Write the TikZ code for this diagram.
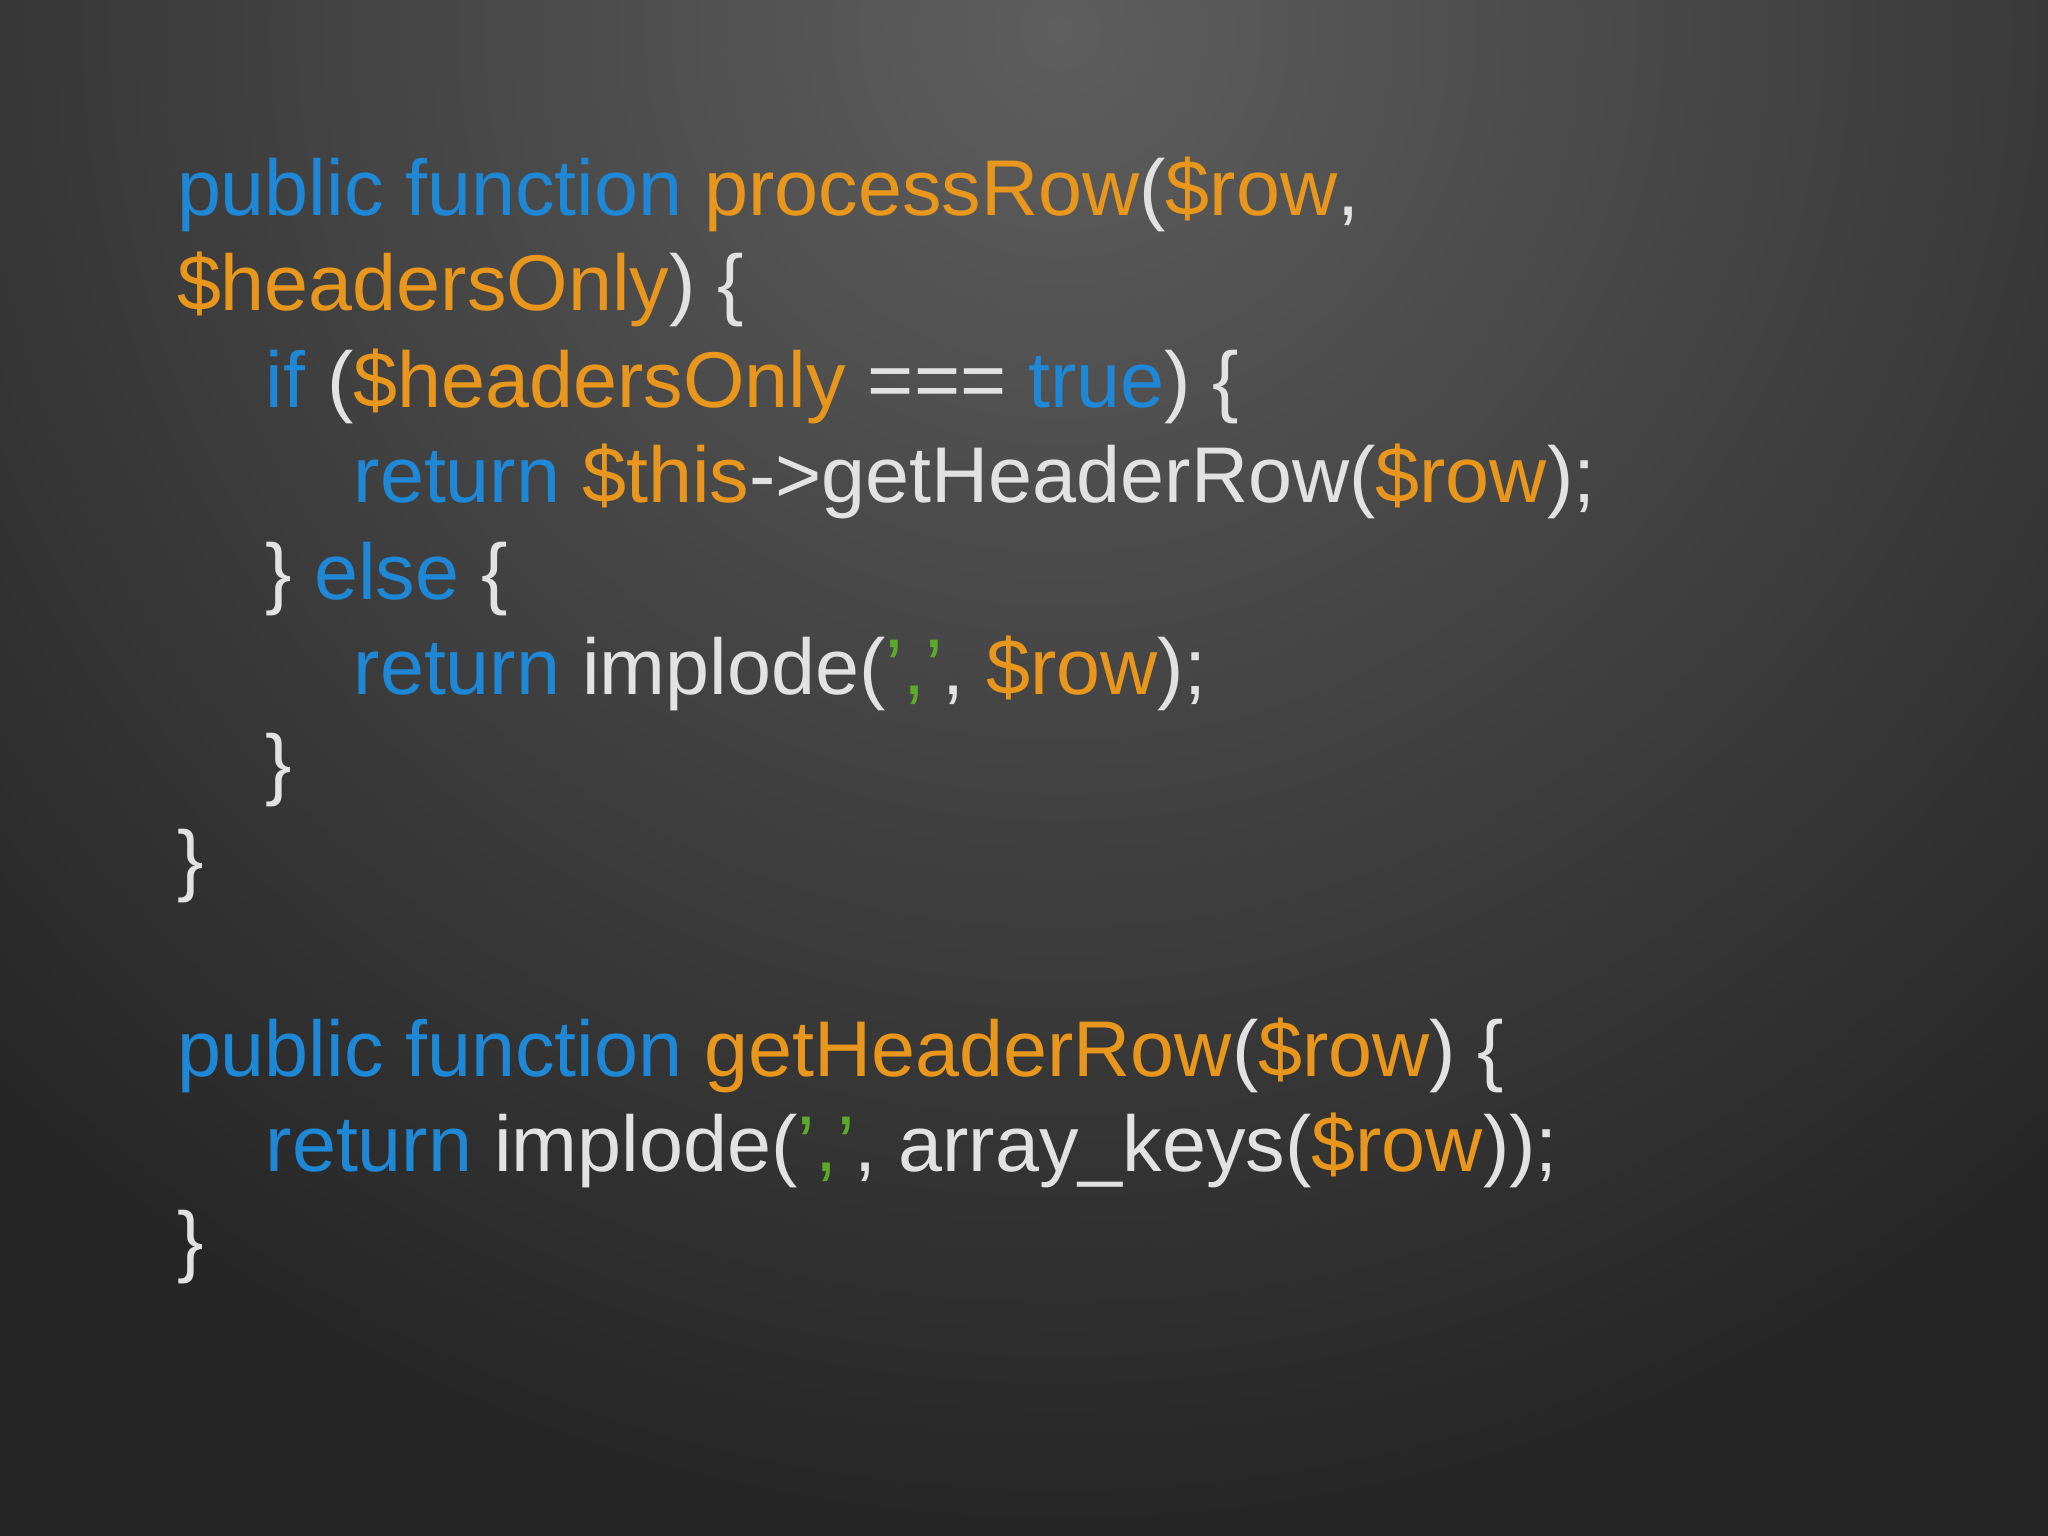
\documentclass[tikz,border=0pt]{standalone}
\usepackage{fontspec}
\setmainfont{Liberation Sans}
\definecolor{kw}{HTML}{1E88D6}
\definecolor{vr}{HTML}{E8961C}
\definecolor{tx}{HTML}{E2E2E2}
\definecolor{st}{HTML}{5DAA2A}
\definecolor{bgin}{HTML}{5E5E5E}
\definecolor{bgout}{HTML}{262626}
\newcommand{\K}[1]{\textcolor{kw}{#1}}
\newcommand{\V}[1]{\textcolor{vr}{#1}}
\newcommand{\G}[1]{\textcolor{st}{#1}}
\tikzset{code/.style={anchor=base west,inner sep=0pt,text=tx,font=\fontsize{22.5}{27}\selectfont}}
\begin{document}
\begin{tikzpicture}
\useasboundingbox (0,0) rectangle (20.48,-15.36);
\begin{scope}
\clip (0,0) rectangle (20.48,-15.36);
\fill[bgout] (0,0) rectangle (20.48,-15.36);
\shade[inner color=bgin,outer color=bgout] (10.6,-0.3) circle (15cm);
\end{scope}
\def\xa{1.763}\def\xb{2.65}\def\xc{3.53}
\node[code] (l1) at (\xa,-2.155) {\K{public function} \V{processRow}(\V{\$row},};
\node[code] (l2) at (\xa,-3.108) {\V{\$headersOnly}) \{};
\node[code] (l3) at (\xb,-4.075) {\K{if} (\V{\$headersOnly} === \K{true}) \{};
\node[code] (l4) at (\xc,-5.028) {\K{return} \V{\$this}->getHeaderRow(\V{\$row});};
\node[code] (l5) at (\xb,-5.995) {\} \K{else} \{};
\node[code] (l6) at (\xc,-6.948) {\K{return} implode(\G{','}, \V{\$row});};
\node[code] (l7) at (\xb,-7.9) {\}};
\node[code] (l8) at (\xa,-8.868) {\}};
\node[code] (l9) at (\xa,-10.76) {\K{public function} \V{getHeaderRow}(\V{\$row}) \{};
\node[code] (l10) at (\xb,-11.715) {\K{return} implode(\G{','}, array\_keys(\V{\$row}));};
\node[code] (l11) at (\xa,-12.67) {\}};
\end{tikzpicture}
\end{document}
